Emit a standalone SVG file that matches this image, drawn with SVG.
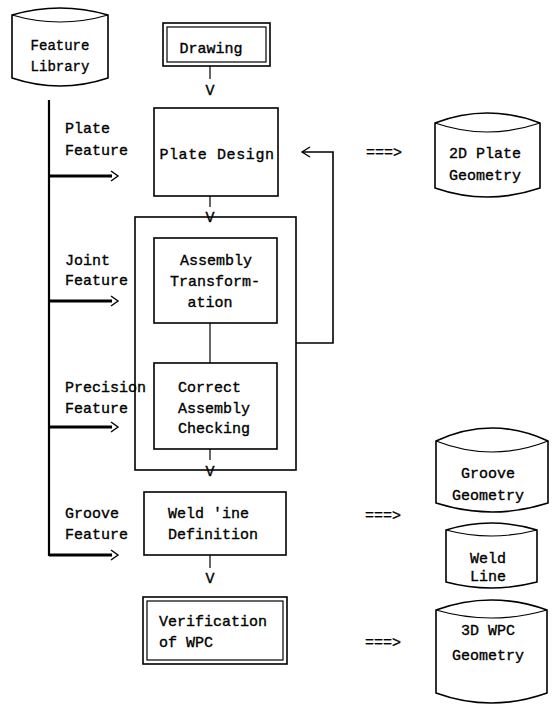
<svg xmlns="http://www.w3.org/2000/svg" width="555" height="705" viewBox="0 0 555 705">
  <style>
    .shape { fill: #fff; stroke: #000; stroke-width: 1.6; }
    .thin { fill: none; stroke: #000; stroke-width: 1.2; }
    .wire { fill: none; stroke: #000; stroke-width: 1.6; }
    .bus { fill: none; stroke: #000; stroke-width: 2.2; }
    .feed { fill: none; stroke: #000; stroke-width: 2.8; }
    .head { fill: none; stroke: #000; stroke-width: 1.4; }
    text { font-family: "Liberation Mono", "DejaVu Sans Mono", monospace; font-size: 15px; fill: #000; stroke: #000; stroke-width: 0.35; }
    .c { text-anchor: middle; }
  </style>

  <rect width="555" height="705" fill="#fff"/>

  <!-- data stores (cylinders) -->
  <g id="feature-library">
    <path class="shape" d="M12,15 Q60,1 108,15 L108,78 Q60,94 12,78 Z"/>
    <path class="thin" d="M12,15 Q60,29 108,15"/>
    <text class="c" x="60" y="50" style="font-size:14px">Feature</text>
    <text class="c" x="60" y="71" style="font-size:14px">Library</text>
  </g>

  <g id="plate-geometry">
    <path class="shape" d="M435,123 Q487,103 540,123 L540,188 Q487,206 435,188 Z"/>
    <path class="thin" d="M435,123 Q487,141 540,123"/>
    <text class="c" x="485" y="158">2D Plate</text>
    <text class="c" x="485" y="180">Geometry</text>
  </g>

  <g id="groove-geometry">
    <path class="shape" d="M436,441 Q492,415 548,441 L548,503 Q492,521 436,503 Z"/>
    <path class="thin" d="M436,441 Q492,463 548,441"/>
    <text class="c" x="488" y="478">Groove</text>
    <text class="c" x="488" y="500">Geometry</text>
  </g>

  <g id="weld-line">
    <path class="shape" d="M446,530 Q491,516 537,530 L537,582 Q491,594 446,582 Z"/>
    <path class="thin" d="M446,530 Q491,542 537,530"/>
    <text class="c" x="488" y="563">Weld</text>
    <text class="c" x="488" y="581">Line</text>
  </g>

  <g id="wpc-geometry">
    <path class="shape" d="M436,610 Q491,590 547,610 L547,693 Q491,713 436,693 Z"/>
    <path class="thin" d="M436,610 Q491,626 547,610"/>
    <text class="c" x="488" y="635">3D WPC</text>
    <text class="c" x="488" y="660">Geometry</text>
  </g>

  <!-- connectors -->
  <g id="connectors">
    <!-- feature library bus -->
    <path class="bus" d="M49,100 V555 H112"/>
    <line class="feed" x1="49" y1="176" x2="112" y2="176"/>
    <line class="feed" x1="49" y1="301" x2="112" y2="301"/>
    <line class="feed" x1="49" y1="427" x2="112" y2="427"/>
    <line class="feed" x1="49" y1="555" x2="112" y2="555"/>
    <polyline class="head" points="111,171 118,176 111,181"/>
    <polyline class="head" points="111,296 118,301 111,306"/>
    <polyline class="head" points="111,422 118,427 111,432"/>
    <polyline class="head" points="111,550 118,555 111,560"/>

    <!-- main flow -->
    <line class="thin" x1="210" y1="66" x2="210" y2="79"/>
    <text class="c" x="210" y="95">V</text>
    <line class="thin" x1="210" y1="196" x2="210" y2="207"/>
    <line class="thin" x1="210" y1="323" x2="210" y2="363"/>
    <line class="thin" x1="210" y1="449" x2="210" y2="460"/>
    <line class="thin" x1="210" y1="555" x2="210" y2="568"/>
    <text class="c" x="210" y="583">V</text>

    <!-- iteration loop back to plate design -->
    <path class="wire" d="M296,343 H333 V152 H303"/>
    <polyline class="head" points="310,147 302,152 310,157"/>

    <!-- outputs to stores -->
    <text x="366" y="157">===&gt;</text>
    <text x="365" y="520">===&gt;</text>
    <text x="365" y="647">===&gt;</text>
  </g>

  <!-- feature labels -->
  <g id="feature-labels">
    <text x="65" y="133">Plate</text>
    <text x="65" y="155">Feature</text>
    <text x="65" y="265">Joint</text>
    <text x="65" y="285">Feature</text>
    <text x="65" y="392">Precision</text>
    <text x="65" y="413">Feature</text>
    <text x="65" y="518">Groove</text>
    <text x="65" y="539">Feature</text>
  </g>

  <!-- process boxes -->
  <g id="drawing">
    <rect class="shape" x="163" y="23" width="107" height="43"/>
    <rect class="thin" x="167" y="27" width="99" height="35"/>
    <text class="c" x="211" y="53">Drawing</text>
  </g>

  <g id="plate-design">
    <rect class="shape" x="154" y="108" width="124" height="88"/>
    <text class="c" x="217" y="159" style="letter-spacing:0.6px">Plate Design</text>
  </g>

  <g id="assembly-group">
    <rect class="wire" x="135" y="217" width="161" height="253"/>
  </g>

  <g id="assembly-transformation">
    <rect class="shape" x="154" y="238" width="123" height="85"/>
    <text class="c" x="216" y="265">Assembly</text>
    <text class="c" x="215" y="286">Transform-</text>
    <text class="c" x="210" y="307">ation</text>
  </g>

  <g id="correct-assembly-checking">
    <rect class="shape" x="154" y="363" width="123" height="86"/>
    <text x="178" y="392">Correct</text>
    <text x="178" y="413">Assembly</text>
    <text x="178" y="433">Checking</text>
  </g>

  <!-- arrowheads entering and leaving the assembly group -->
  <g id="group-arrows">
    <text class="c" x="210" y="222">V</text>
    <text class="c" x="210" y="476">V</text>
  </g>

  <g id="weld-line-definition">
    <rect class="shape" x="144" y="492" width="142" height="63"/>
    <text x="168" y="518">Weld 'ine</text>
    <text x="168" y="539">Definition</text>
  </g>

  <g id="verification">
    <rect class="shape" x="143" y="597" width="144" height="67"/>
    <rect class="thin" x="147" y="601" width="136" height="59"/>
    <text x="159" y="626">Verification</text>
    <text x="159" y="647">of WPC</text>
  </g>
</svg>
